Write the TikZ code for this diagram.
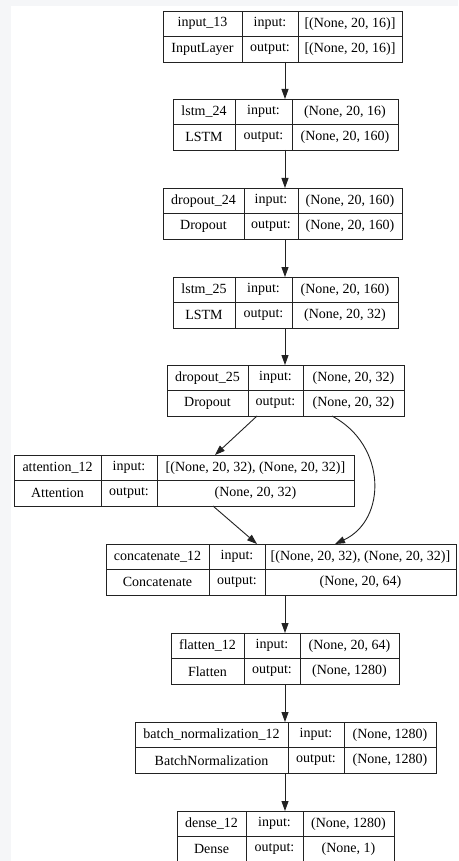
\documentclass[tikz,border=0pt]{standalone}
\usepackage{fontspec}
\setmainfont{Liberation Serif}
\usetikzlibrary{arrows.meta,calc}
\definecolor{lc}{HTML}{222222}
\definecolor{bgg}{HTML}{F5F6F8}
\tikzset{
  cell/.style={draw=lc, line width=0.9pt, inner sep=0pt, outer sep=0pt,
    font={\rmfamily\fontsize{14pt}{16pt}\selectfont}, text=black, anchor=center},
  outer/.style={inner sep=0pt, outer sep=0pt, anchor=north west},
  arr/.style={draw=lc, line width=0.9pt, -{Triangle[length=10pt,width=7pt]}}
}
% #1 name, #2 left, #3 divider 1, #4 divider 2, #5 right, #6 top, #7 label, #8 class, #9 {in}{out}
\newcommand\layershapes[3]{%
  \node[cell, minimum width=\wC pt, minimum height=25.5pt] (#1-in) at (\cC,\rT) {#2};
  \node[cell, minimum width=\wC pt, minimum height=25.5pt] (#1-out) at (\cC,\rB) {#3};
}
\newcommand\layer[9]{%
  \pgfmathsetmacro\cA{(#2+#3)/2}\pgfmathsetmacro\cB{(#3+#4)/2}\pgfmathsetmacro\cC{(#4+#5)/2}%
  \pgfmathsetmacro\wA{#3-#2}\pgfmathsetmacro\wB{#4-#3}\pgfmathsetmacro\wC{#5-#4}%
  \pgfmathsetmacro\wT{#5-#2}%
  \pgfmathsetmacro\rT{#6+12.75}\pgfmathsetmacro\rB{#6+38.25}%
  \node[outer, minimum width=\wT pt, minimum height=51pt] (#1) at (#2,#6) {};
  \node[cell, minimum width=\wA pt, minimum height=25.5pt] (#1-name) at (\cA,\rT) {#7};
  \node[cell, minimum width=\wA pt, minimum height=25.5pt] (#1-class) at (\cA,\rB) {#8};
  \node[cell, minimum width=\wB pt, minimum height=25.5pt] (#1-inl) at (\cB,\rT) {input:};
  \node[cell, minimum width=\wB pt, minimum height=25.5pt] (#1-outl) at (\cB,\rB) {output:};
  \layershapes{#1}#9
}
\begin{document}
\begin{tikzpicture}[x=1pt,y=-1pt]
\clip (0,0) rectangle (458,861);
\fill[white] (0,0) rectangle (458,861);
\fill[bgg] (0,0) rectangle (458,5.7);
\fill[bgg] (0,0) rectangle (11,861);

\layer{in13}{163}{242}{298}{402}{11}{input\_13}{InputLayer}{{[(None, 20, 16)]}{[(None, 20, 16)]}}
\layer{lstm24}{173}{235}{292}{398}{99}{lstm\_24}{LSTM}{{(None, 20, 16)}{(None, 20, 160)}}
\layer{drop24}{163}{244}{298}{402}{188}{dropout\_24}{Dropout}{{(None, 20, 160)}{(None, 20, 160)}}
\layer{lstm25}{173}{235}{292}{398}{277}{lstm\_25}{LSTM}{{(None, 20, 160)}{(None, 20, 32)}}
\layer{drop25}{167}{248}{303}{404}{365}{dropout\_25}{Dropout}{{(None, 20, 32)}{(None, 20, 32)}}
\layer{att12}{14}{101}{157}{354}{455}{attention\_12}{Attention}{{[(None, 20, 32), (None, 20, 32)]}{(None, 20, 32)}}
\layer{cat12}{106}{209}{265}{456}{544}{concatenate\_12}{Concatenate}{{[(None, 20, 32), (None, 20, 32)]}{(None, 20, 64)}}
\layer{flat12}{171}{244}{300}{399}{633}{flatten\_12}{Flatten}{{(None, 20, 64)}{(None, 1280)}}
\layer{bn12}{135}{288}{344}{436}{722}{batch\_normalization\_12}{BatchNormalization}{{(None, 1280)}{(None, 1280)}}
\layer{dense12}{177}{246}{303}{394}{811}{dense\_12}{Dense}{{(None, 1280)}{(None, 1)}}

\coordinate (axis) at (285,0);
\draw[arr] (in13.south -| axis) -- (lstm24.north -| axis);
\draw[arr] (lstm24.south -| axis) -- (drop24.north -| axis);
\draw[arr] (drop24.south -| axis) -- (lstm25.north -| axis);
\draw[arr] (lstm25.south -| axis) -- (drop25.north -| axis);
\draw[arr] ($(drop25.south west)+(90,0)$) -- ($(att12.north west)+(201,0)$);
\draw[arr] ($(att12.south west)+(199,0)$) -- ($(cat12.north west)+(151,0)$);
\draw[arr] ($(drop25.south west)+(165,0)$) .. controls (387,445) and (387,520) .. ($(cat12.north west)+(229,0)$);
\draw[arr] (cat12.south -| axis) -- (flat12.north -| axis);
\draw[arr] (flat12.south -| axis) -- (bn12.north -| axis);
\draw[arr] (bn12.south -| axis) -- (dense12.north -| axis);
\end{tikzpicture}
\end{document}
